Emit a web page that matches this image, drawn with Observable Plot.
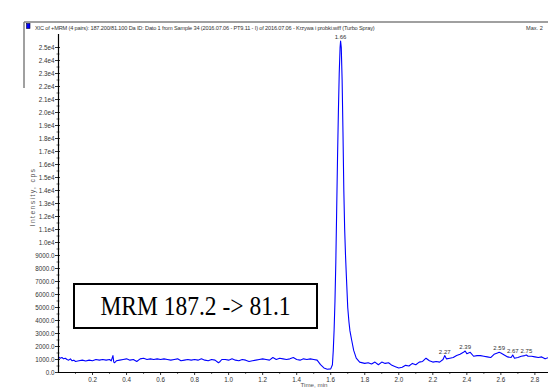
<!DOCTYPE html>
<html><head><meta charset="utf-8">
<script src="https://cdn.jsdelivr.net/npm/d3@7"></script>
<script src="https://cdn.jsdelivr.net/npm/@observablehq/plot@0.6"></script>
<style>
html,body{margin:0;padding:0;background:#fff;overflow:hidden;}
#wrap{position:relative;width:548px;height:388px;overflow:hidden;}
#wrap svg.plot{position:absolute;left:0;top:0;}
#over{position:absolute;left:0;top:0;pointer-events:none;}
#box{position:absolute;left:73px;top:283px;width:241px;height:42px;border:2px solid #000;background:#fff;
 font-family:"Liberation Serif","Times New Roman",serif;font-size:23.5px;color:#000;
 display:flex;align-items:center;justify-content:center;}
#box span{display:inline-block;transform:scaleY(1.2);}
</style></head>
<body><div id="wrap"></div>
<script>
// ---- data ----
const times = [
 0.00,0.01,0.02,0.03,0.04,0.05,0.06,0.07,0.08,0.09,0.10,0.12,0.14,0.16,0.18,0.20,0.22,0.24,0.26,0.28,
 0.30,0.31,0.32,0.325,0.33,0.34,0.36,0.38,0.40,0.42,0.44,0.46,0.48,0.50,0.52,0.54,0.56,0.58,0.60,0.62,
 0.64,0.66,0.68,0.70,0.72,0.74,0.76,0.78,0.80,0.82,0.84,0.86,0.88,0.90,0.92,0.94,0.95,0.96,0.98,1.00,
 1.02,1.04,1.06,1.08,1.10,1.12,1.14,1.16,1.18,1.20,1.22,1.24,1.26,1.28,1.30,1.32,1.34,1.36,1.38,1.40,
 1.42,1.44,1.46,1.48,1.50,1.52,1.54,1.56,1.58,1.60,1.61,1.615,1.62,1.625,1.63,1.635,1.64,1.645,1.65,1.655,
 1.658,1.662,1.667,1.672,1.677,1.682,1.687,1.692,1.70,1.707,1.713,1.723,1.735,1.75,1.77,1.80,1.82,1.84,1.86,1.88,1.90,
 1.92,1.94,1.96,1.98,2.00,2.02,2.04,2.06,2.08,2.10,2.12,2.14,2.16,2.18,2.20,2.22,2.24,2.26,2.27,2.28,
 2.30,2.32,2.34,2.36,2.38,2.39,2.40,2.42,2.44,2.46,2.48,2.50,2.52,2.54,2.56,2.58,2.59,2.60,2.62,2.64,
 2.66,2.67,2.68,2.70,2.72,2.74,2.75,2.76,2.78,2.80,2.82,2.84,2.86,2.88
];
const intensity = [
 1200,1100,1150,1050,1100,1000,950,1050,900,950,850,900,950,880,950,900,1000,950,1000,950,
 1000,900,1300,800,750,900,950,1000,1050,950,1000,850,1050,1100,1000,1050,1000,1050,1000,1050,
 1000,950,1000,1050,900,950,1000,950,1000,950,1050,950,900,1000,950,750,850,1000,1000,950,
 1050,950,900,1000,950,850,900,950,1000,1050,1000,950,1150,1000,1100,1050,1000,1050,1150,1000,
 950,1050,1000,1050,1000,950,600,350,250,280,600,1700,3300,5500,8500,12500,16500,20000,23000,25000,
 25500,25000,22500,18500,14000,11000,9000,7400,5000,3900,3200,2500,1700,1100,800,700,750,650,800,600,800,
 700,750,550,450,350,400,550,500,700,600,800,850,1100,900,800,850,800,1000,1300,1050,
 1100,1150,1300,1400,1550,1650,1450,1550,1250,1300,1300,1250,1200,1150,1400,1500,1550,1500,1350,1200,
 1150,1350,1100,1150,1250,1300,1350,1250,1250,1200,1150,1200,1050,1150
];
const peakTimes = [1.658, 2.27, 2.39, 2.59, 2.67, 2.75];
const peakValues = [25500, 1300, 1650, 1550, 1350, 1350];
const peakLabels = ["1.66", "2.27", "2.39", "2.59", "2.67", "2.75"];
const yTicks = [0,1000,2000,3000,4000,5000,6000,7000,8000,9000,10000,11000,12000,13000,14000,15000,16000,17000,18000,19000,20000,21000,22000,23000,24000,25000];
const yTickLabels = ["0.0","1000.0","2000.0","3000.0","4000.0","5000.0","6000.0","7000.0","8000.0","9000.0","1.0e4","1.1e4","1.2e4","1.3e4","1.4e4","1.5e4","1.6e4","1.7e4","1.8e4","1.9e4","2.0e4","2.1e4","2.2e4","2.3e4","2.4e4","2.5e4"];
const yMinor = [500,1500,2500,3500,4500,5500,6500,7500,8500,9500,10500,11500,12500,13500,14500,15500,16500,17500,18500,19500,20500,21500,22500,23500,24500];
const xTicks = [0.2,0.4,0.6,0.8,1.0,1.2,1.4,1.6,1.8,2.0,2.2,2.4,2.6,2.8];
const xTickLabels = ["0.2","0.4","0.6","0.8","1.0","1.2","1.4","1.6","1.8","2.0","2.2","2.4","2.6","2.8"];
const xMinor = [0.1,0.3,0.5,0.7,0.9,1.1,1.3,1.5,1.7,1.9,2.1,2.3,2.5,2.7];
const titleText = "XIC of +MRM (4 pairs): 187.200/81.100 Da ID: Dato 1 from Sample 34 (2016.07.06 - PT9.11 - I) of 2016.07.06 - Krzywa i probki.wiff (Turbo Spray)";
const maxText = "Max. 2";
const boxText = "MRM 187.2 -> 81.1";
const yLabel = "Intensity, cps";
const xLabel = "Time, min";

// ---- build ----
const trace = times.map((t, i) => ({t, v: intensity[i]}));
const peaks = peakTimes.map((t, i) => ({t, v: peakValues[i], label: peakLabels[i]}));
const yTickData = yTicks.map((v, i) => ({v, label: yTickLabels[i]}));
const xTickData = xTicks.map((t, i) => ({t, label: xTickLabels[i]}));
const font = "'Liberation Sans', Arial, sans-serif";

const chart = Plot.plot({
  width: 548, height: 388,
  marginLeft: 58, marginRight: 0, marginTop: 34, marginBottom: 16,
  style: {fontFamily: font, background: "transparent", overflow: "visible"},
  x: {domain: [0, 2.88], axis: null},
  y: {domain: [0, 26000], axis: null},
  marks: [
    Plot.line(trace, {x: "t", y: "v", stroke: "#0000ff", strokeWidth: 1.1}),
    // y ticks
    Plot.ruleY(yTickData, {y: "v", x1: 0, x2: 0, insetLeft: -3, insetRight: -2, stroke: "#000", strokeWidth: 0.8}),
    Plot.ruleY(yMinor, {y: d => d, x1: 0, x2: 0, insetLeft: -1.5, insetRight: -1.5, stroke: "#000", strokeWidth: 0.6}),
    Plot.text(yTickData, {x: 0, y: "v", text: "label", textAnchor: "end", dx: -4, fontSize: 6.3, fill: "#333"}),
    // x ticks
    Plot.ruleX(xTickData, {x: "t", y1: 0, y2: 0, insetBottom: -3, stroke: "#000", strokeWidth: 0.8}),
    Plot.ruleX(xMinor, {x: d => d, y1: 0, y2: 0, insetBottom: -2, stroke: "#000", strokeWidth: 0.6}),
    Plot.text(xTickData, {x: "t", y: 0, text: "label", lineAnchor: "top", dy: 5, fontSize: 6.3, fill: "#333"}),
    // axis lines
    Plot.ruleX([0], {stroke: "#000", strokeWidth: 1.2}),
    Plot.ruleY([0], {stroke: "#000", strokeWidth: 1.2}),
    Plot.text(peaks, {x: "t", y: "v", text: "label", lineAnchor: "bottom", dy: -2, fontSize: 6, fill: "#333"})
  ]
});
chart.classList.add("plot");
const wrap = document.getElementById("wrap");
wrap.appendChild(chart);

// overlay: title bar, axis labels
const ns = "http://www.w3.org/2000/svg";
const over = document.createElementNS(ns, "svg");
over.setAttribute("id", "over");
over.setAttribute("width", 548);
over.setAttribute("height", 388);
function el(tag, attrs, text) {
  const e = document.createElementNS(ns, tag);
  for (const k in attrs) e.setAttribute(k, attrs[k]);
  if (text != null) e.textContent = text;
  over.appendChild(e);
  return e;
}
el("line", {x1: 24, y1: 22, x2: 548, y2: 22, stroke: "#808080", "stroke-width": 1.5});
el("line", {x1: 24, y1: 22, x2: 24, y2: 88, stroke: "#808080", "stroke-width": 1.5});
el("rect", {x: 26.5, y: 23.5, width: 3.5, height: 5, fill: "#0000ff", stroke: "#000033", "stroke-width": 0.6});
el("text", {x: 35, y: 29.5, "font-family": font, "font-size": 5.6, fill: "#333", "letter-spacing": -0.15}, titleText);
el("text", {x: 526, y: 29.5, "font-family": font, "font-size": 5.6, fill: "#333"}, maxText);
el("text", {x: 0, y: 0, transform: "translate(35,197) rotate(-90)", "text-anchor": "middle", "font-family": font, "font-size": 6.8, fill: "#555", "letter-spacing": 1.4}, yLabel);
el("text", {x: 314, y: 387.3, "text-anchor": "middle", "font-family": font, "font-size": 6.2, fill: "#555"}, xLabel);
wrap.appendChild(over);

const box = document.createElement("div");
box.id = "box";
const sp = document.createElement("span");
sp.textContent = boxText;
box.appendChild(sp);
wrap.appendChild(box);
</script>
</body></html>
